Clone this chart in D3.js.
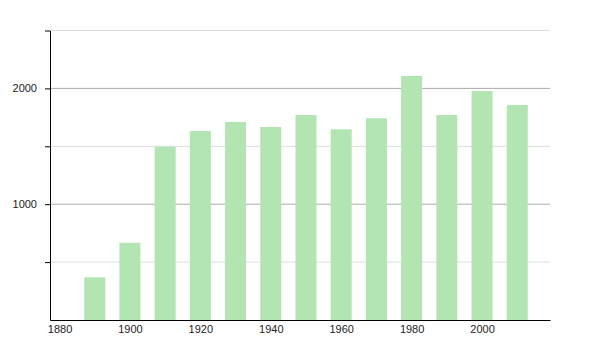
<!DOCTYPE html>
<html lang="en">
<head>
<meta charset="UTF-8">
<title>Population</title>
<script src="https://d3js.org/d3.v7.min.js"></script>
<style>
body { margin: 0; background: white; font-family: 'Liberation Sans', Arial, sans-serif; }
.axis text { font-size: 11px; fill: #222; }
.axis path, .axis line { stroke: black; }
</style>
</head>
<body>
<div id="chart"></div>
<script>

// data
const years = [1890, 1900, 1910, 1920, 1930, 1940, 1950, 1960, 1970, 1980, 1990, 2000, 2010];
const population = [369, 667, 1496, 1632, 1710, 1667, 1770, 1647, 1742, 2107, 1770, 1978, 1857];
const xTicks = [1880, 1900, 1920, 1940, 1960, 1980, 2000];
const majorTicks = [1000, 2000];
const minorTicks = [500, 1500, 2500];

const width = 600, height = 350;

const svg = d3.select("#chart").append("svg")
  .attr("width", width)
  .attr("height", height);

// scales
const x = d3.scaleLinear()
  .domain([1877.3, 2019.3])
  .range([50, 550]);

const y = d3.scaleLinear()
  .domain([0, 2500])
  .range([320, 30.5]);

// gridlines
svg.selectAll(".minor").data(minorTicks).join("line")
  .attr("x1", 50).attr("x2", 550)
  .attr("y1", d => y(d)).attr("y2", d => y(d))
  .attr("stroke", "#ddd");

svg.selectAll(".major").data(majorTicks).join("line")
  .attr("x1", 50).attr("x2", 550)
  .attr("y1", d => y(d)).attr("y2", d => y(d))
  .attr("stroke", "#aaa");

// bars
const barW = 21;
svg.selectAll(".bar").data(years).join("rect")
  .attr("class", "bar")
  .attr("x", (d) => x(d) - barW / 2)
  .attr("y", (d, i) => y(population[i]))
  .attr("width", barW)
  .attr("height", (d, i) => y(0) - y(population[i]))
  .attr("fill", "#b3e5b3");

// axes
svg.append("g")
  .attr("class", "axis")
  .attr("transform", "translate(50,0)")
  .call(d3.axisLeft(y).tickValues(majorTicks.concat(minorTicks))
    .tickFormat(d => majorTicks.includes(d) ? d : "")
    .tickSize(5).tickSizeOuter(0).tickPadding(8));

svg.append("g")
  .attr("class", "axis")
  .attr("transform", "translate(0,320)")
  .call(d3.axisBottom(x).tickValues(xTicks).tickFormat(d3.format("d"))
    .tickSize(0).tickSizeOuter(0).tickPadding(5));

</script>
</body>
</html>
